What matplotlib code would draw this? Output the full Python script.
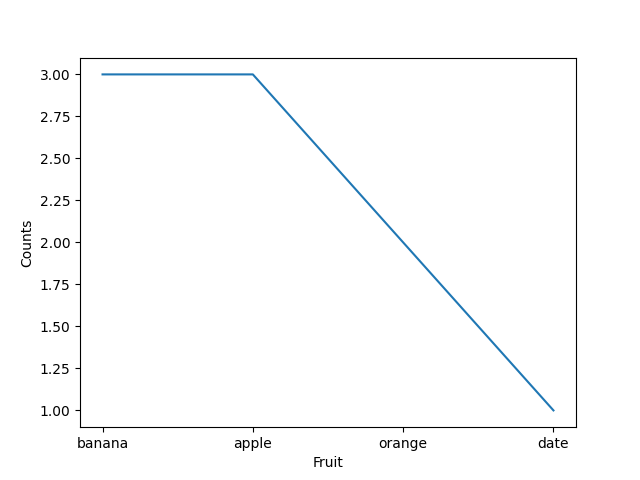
import matplotlib
matplotlib.use('Agg')
import matplotlib.pyplot as plt

fruits = ['banana', 'apple', 'orange', 'date']
counts = [3, 3, 2, 1]

fig, ax = plt.subplots(figsize=(6.4, 4.8), dpi=100)
ax.plot(fruits, counts)
ax.set_xlabel('Fruit')
ax.set_ylabel('Counts')
fig.savefig('out.png')
